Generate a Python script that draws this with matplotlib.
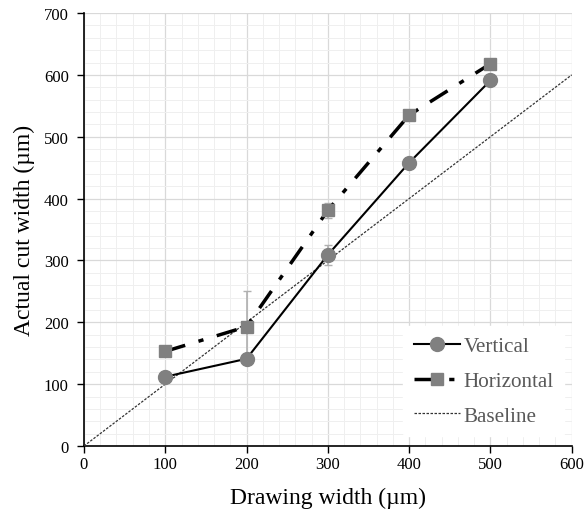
import matplotlib
matplotlib.use("Agg")
import matplotlib.pyplot as plt
import numpy as np
from matplotlib.ticker import MultipleLocator

plt.rcParams['font.family'] = ['Liberation Serif', 'DejaVu Serif']

widths = [100, 200, 300, 400, 500]
vertical = [112, 141, 309, 458, 591]
vertical_err = [0, 0, 16, 0, 0]
horizontal = [153, 193, 381, 535, 618]
horizontal_err = [0, 58, 12, 0, 0]
baseline_x = [0, 600]
baseline_y = [0, 600]

fig = plt.figure(figsize=(5.87, 5.10), dpi=100)
ax = fig.add_axes([0.143, 0.1235, 0.831, 0.849])

ax.set_xlim(0, 600)
ax.set_ylim(0, 700)
ax.xaxis.set_major_locator(MultipleLocator(100))
ax.yaxis.set_major_locator(MultipleLocator(100))
ax.xaxis.set_minor_locator(MultipleLocator(20))
ax.yaxis.set_minor_locator(MultipleLocator(20))
ax.grid(which='major', color='#d9d9d9', lw=0.9)
ax.grid(which='minor', color='#efefef', lw=0.7)
ax.set_axisbelow(True)

for s in ['top', 'right']:
    ax.spines[s].set_visible(False)
for s in ['left', 'bottom']:
    ax.spines[s].set_color('black')
    ax.spines[s].set_linewidth(1.2)

ax.tick_params(which='major', direction='out', length=5, width=1, labelsize=12, colors='black')
ax.tick_params(axis='x', pad=2)
ax.tick_params(axis='y', pad=6)
ax.tick_params(which='minor', length=0)

ax.errorbar(widths, horizontal, yerr=horizontal_err, fmt='none', ecolor='#b0b0b0',
            elinewidth=1.2, capsize=3, capthick=1, zorder=2)
ax.errorbar(widths, vertical, yerr=vertical_err, fmt='none', ecolor='#b0b0b0',
            elinewidth=1.2, capsize=3, capthick=1, zorder=2)

ax.plot(baseline_x, baseline_y, color='#333333', lw=0.9, ls=(0, (2, 1.2)), label='Baseline', zorder=3)
lv, = ax.plot(widths, vertical, color='black', lw=1.5, marker='o', markersize=10,
              markerfacecolor='#808080', markeredgecolor='#808080', label='Vertical', zorder=4)
lh, = ax.plot(widths, horizontal, color='black', lw=2.5, ls=(0, (6, 4, 1.5, 4)), marker='s', markersize=9,
              markerfacecolor='#808080', markeredgecolor='#808080', label='Horizontal', zorder=4)

handles, labels = ax.get_legend_handles_labels()
order = [1, 2, 0]
leg = ax.legend([handles[i] for i in order], [labels[i] for i in order],
                loc='lower right', bbox_to_anchor=(0.985, 0.023), frameon=True, fontsize=15.2,
                handlelength=2.2, handletextpad=0.15, labelspacing=0.7, borderpad=0.5,
                borderaxespad=0.0)
leg.get_frame().set_edgecolor('white')
leg.get_frame().set_facecolor('white')
leg.get_frame().set_alpha(1)
for t in leg.get_texts():
    t.set_color('#595959')

ax.set_xlabel('Drawing width (µm)', fontsize=17, labelpad=11)
ax.set_ylabel('Actual cut width (µm)', fontsize=17, labelpad=6)

fig.savefig('out.png', dpi=100)
